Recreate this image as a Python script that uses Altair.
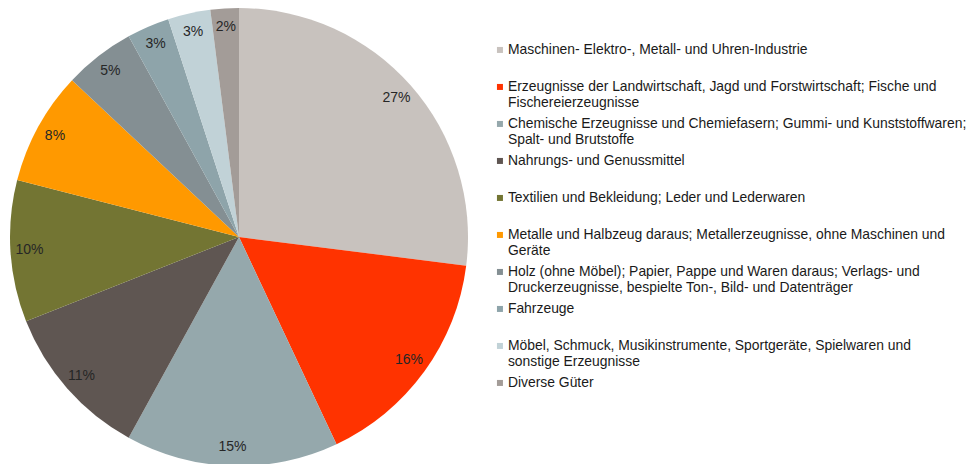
import json
import altair as alt
import pandas as pd

categories = [
    "Maschinen- Elektro-, Metall- und Uhren-Industrie",
    "Erzeugnisse der Landwirtschaft, Jagd und Forstwirtschaft; Fische und Fischereierzeugnisse",
    "Chemische Erzeugnisse und Chemiefasern; Gummi- und Kunststoffwaren; Spalt- und Brutstoffe",
    "Nahrungs- und Genussmittel",
    "Textilien und Bekleidung; Leder und Lederwaren",
    "Metalle und Halbzeug daraus; Metallerzeugnisse, ohne Maschinen und Geräte",
    "Holz (ohne Möbel); Papier, Pappe und Waren daraus; Verlags- und Druckerzeugnisse, bespielte Ton-, Bild- und Datenträger",
    "Fahrzeuge",
    " Möbel, Schmuck, Musikinstrumente, Sportgeräte, Spielwaren und sonstige Erzeugnisse",
    "Diverse Güter",
]
shares = [27, 16, 15, 11, 10, 8, 5, 3, 3, 2]
colors = ["#C8C2BE", "#FF3300", "#95A8AC", "#5F5652", "#737533",
          "#FF9900", "#848F93", "#8EA4AA", "#C1D2D7", "#A39C98"]
legend_lines = [
    ["Maschinen- Elektro-, Metall- und Uhren-Industrie", ""],
    ["Erzeugnisse der Landwirtschaft, Jagd und Forstwirtschaft; Fische und", "Fischereierzeugnisse"],
    ["Chemische Erzeugnisse und Chemiefasern; Gummi- und Kunststoffwaren;", "Spalt- und Brutstoffe"],
    ["Nahrungs- und Genussmittel", ""],
    ["Textilien und Bekleidung; Leder und Lederwaren", ""],
    ["Metalle und Halbzeug daraus; Metallerzeugnisse, ohne Maschinen und", "Geräte"],
    ["Holz (ohne Möbel); Papier, Pappe und Waren daraus; Verlags- und", "Druckerzeugnisse, bespielte Ton-, Bild- und Datenträger"],
    ["Fahrzeuge", ""],
    [" Möbel, Schmuck, Musikinstrumente, Sportgeräte, Spielwaren und", "sonstige Erzeugnisse"],
    ["Diverse Güter", ""],
]

df = pd.DataFrame({
    "kategorie": categories,
    "anteil": shares,
    "ordnung": list(range(len(categories))),
})
df["label"] = df["anteil"].astype(str) + "%"

label_expr = "{}[indexof({}, datum.label)]".format(
    json.dumps(legend_lines, ensure_ascii=False),
    json.dumps(categories, ensure_ascii=False),
)

base = alt.Chart(df).encode(
    theta=alt.Theta("anteil:Q", stack=True),
    order=alt.Order("ordnung:Q"),
    x=alt.value(231),
    y=alt.value(229),
)

arc = base.mark_arc(outerRadius=229).encode(
    color=alt.Color(
        "kategorie:N",
        scale=alt.Scale(domain=categories, range=colors),
        sort=categories,
        legend=alt.Legend(
            title=None,
            orient="none",
            direction="vertical",
            legendX=485,
            legendY=35,
            labelExpr=label_expr,
            labelFont="Liberation Sans",
            labelFontSize=13.9,
            labelColor="#1a1a1a",
            labelLimit=700,
            labelBaseline="middle",
            labelOffset=1,
            symbolType="square",
            symbolSize=36,
            symbolStrokeWidth=0,
            rowPadding=6,
            padding=0,
        ),
    )
)

text = base.mark_text(
    radius=210, fontSize=14, font="Liberation Sans", color="#262626"
).encode(text="label:N")

chart = (
    alt.layer(arc, text)
    .properties(
        width=958,
        height=456,
        padding=0,
        autosize=alt.AutoSizeParams(type="none"),
    )
    .configure_view(stroke=None)
)

chart.save("out.html", embed_options={"renderer": "svg", "actions": False})
